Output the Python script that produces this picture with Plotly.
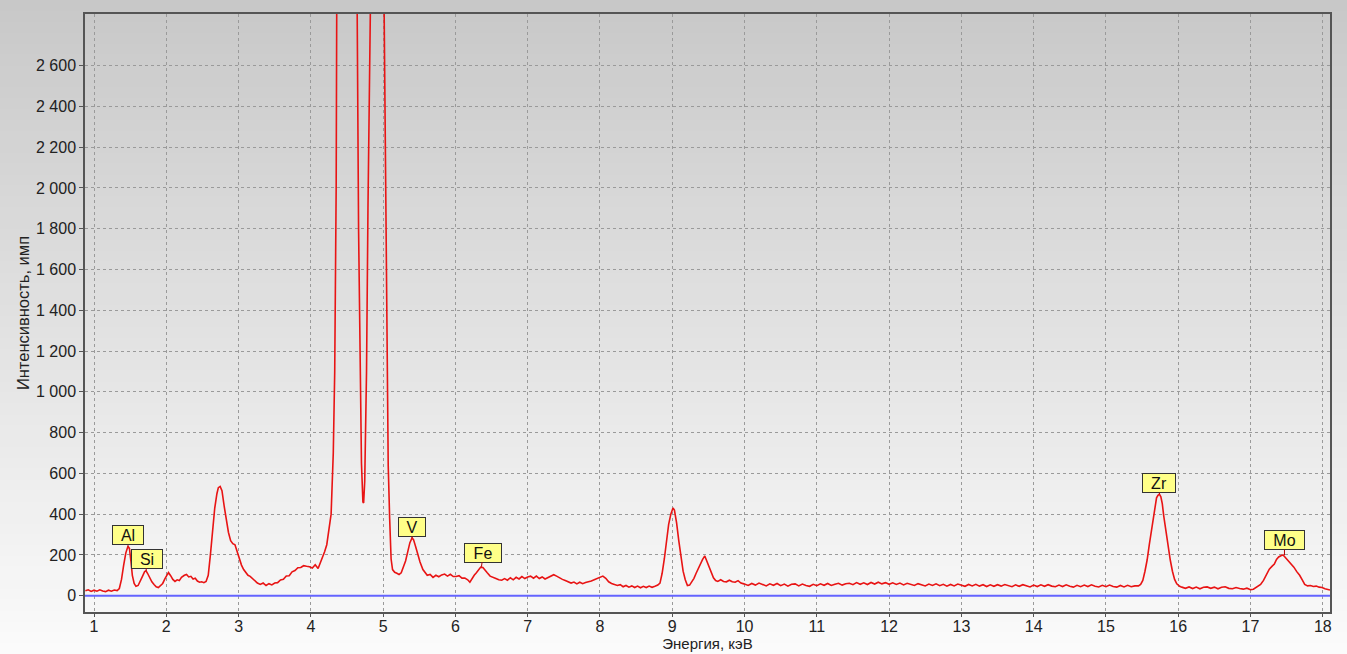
import plotly.graph_objects as go

# ---------------- data ----------------
spectrum_points = [
    (0.88, 24), (0.92, 29), (0.96, 21), (1.00, 27), (1.04, 22), (1.08, 29), (1.12, 23), (1.16, 20),
    (1.20, 27), (1.24, 22), (1.28, 28), (1.32, 25), (1.35, 35), (1.38, 80), (1.41, 150), (1.44, 210),
    (1.47, 242), (1.49, 232), (1.51, 170), (1.53, 100), (1.555, 60), (1.58, 46), (1.61, 50), (1.64, 70),
    (1.67, 95), (1.70, 118), (1.72, 122), (1.74, 110), (1.77, 85), (1.80, 68), (1.83, 55), (1.86, 44),
    (1.89, 40), (1.92, 52), (1.95, 60), (1.98, 82), (2.01, 100), (2.03, 114), (2.06, 98), (2.09, 80),
    (2.12, 70), (2.15, 78), (2.18, 74), (2.21, 90), (2.25, 100), (2.28, 104), (2.31, 92), (2.34, 95),
    (2.37, 82), (2.40, 86), (2.43, 72), (2.46, 66), (2.49, 68), (2.52, 64), (2.55, 70), (2.58, 100),
    (2.61, 200), (2.64, 320), (2.67, 430), (2.70, 500), (2.72, 530), (2.745, 536), (2.77, 515), (2.80, 440),
    (2.83, 370), (2.86, 310), (2.89, 270), (2.92, 255), (2.95, 250), (2.98, 215), (3.01, 185), (3.04, 150),
    (3.07, 128), (3.10, 112), (3.13, 100), (3.16, 95), (3.19, 85), (3.22, 72), (3.26, 62), (3.30, 55),
    (3.34, 62), (3.38, 50), (3.42, 59), (3.46, 53), (3.50, 62), (3.54, 64), (3.58, 77), (3.62, 80),
    (3.66, 97), (3.70, 98), (3.74, 117), (3.78, 123), (3.82, 137), (3.86, 138), (3.90, 147), (3.94, 144),
    (3.98, 142), (4.02, 136), (4.06, 152), (4.10, 133), (4.13, 160), (4.16, 184), (4.19, 215), (4.22, 250),
    (4.25, 330), (4.28, 400), (4.31, 700), (4.33, 1100), (4.35, 2000), (4.37, 3500), (4.40, 8000),
    (4.45, 15000), (4.51, 20000), (4.56, 14000), (4.60, 6000), (4.62, 3800), (4.64, 2900), (4.66, 1800),
    (4.68, 1100), (4.70, 650), (4.72, 460), (4.73, 455), (4.745, 560), (4.77, 1100), (4.79, 1900),
    (4.81, 2800), (4.83, 3600), (4.88, 5500), (4.93, 6000), (4.98, 4200), (5.01, 3000), (5.03, 2200),
    (5.05, 1200), (5.07, 640), (5.09, 380), (5.11, 180), (5.13, 128), (5.16, 115), (5.19, 110), (5.22, 104),
    (5.25, 112), (5.28, 140), (5.31, 170), (5.34, 215), (5.37, 260), (5.40, 283), (5.42, 275), (5.45, 240),
    (5.48, 195), (5.51, 165), (5.55, 128), (5.58, 112), (5.61, 100), (5.65, 104), (5.69, 90), (5.73, 100),
    (5.77, 93), (5.81, 102), (5.85, 106), (5.89, 96), (5.93, 105), (5.97, 94), (6.01, 94), (6.05, 98),
    (6.09, 86), (6.13, 86), (6.17, 78), (6.20, 66), (6.23, 85), (6.26, 100), (6.29, 112), (6.32, 125),
    (6.35, 140), (6.38, 138), (6.41, 122), (6.44, 112), (6.48, 96), (6.52, 88), (6.56, 84), (6.60, 78),
    (6.64, 76), (6.68, 84), (6.72, 76), (6.76, 88), (6.80, 78), (6.84, 90), (6.88, 82), (6.92, 94),
    (6.96, 84), (7.00, 92), (7.04, 96), (7.08, 86), (7.12, 96), (7.16, 84), (7.20, 92), (7.24, 82),
    (7.28, 90), (7.32, 95), (7.36, 103), (7.40, 96), (7.44, 86), (7.48, 80), (7.52, 74), (7.56, 66),
    (7.60, 62), (7.64, 67), (7.68, 58), (7.72, 66), (7.76, 59), (7.80, 65), (7.84, 68), (7.88, 72),
    (7.92, 78), (7.96, 84), (8.00, 90), (8.04, 96), (8.08, 85), (8.12, 68), (8.16, 60), (8.20, 55),
    (8.24, 50), (8.28, 54), (8.32, 44), (8.36, 50), (8.40, 42), (8.44, 48), (8.48, 40), (8.52, 47),
    (8.56, 39), (8.60, 46), (8.64, 40), (8.68, 47), (8.72, 41), (8.76, 46), (8.80, 52), (8.83, 62),
    (8.86, 110), (8.89, 180), (8.92, 270), (8.95, 350), (8.98, 400), (9.01, 430), (9.03, 420), (9.06, 357),
    (9.09, 270), (9.12, 190), (9.15, 120), (9.18, 78), (9.21, 50), (9.24, 52), (9.27, 68), (9.30, 85),
    (9.33, 110), (9.36, 135), (9.39, 160), (9.42, 178), (9.45, 195), (9.48, 170), (9.51, 140), (9.54, 112),
    (9.57, 88), (9.60, 74), (9.63, 70), (9.67, 78), (9.71, 70), (9.75, 68), (9.79, 76), (9.83, 68),
    (9.87, 66), (9.91, 74), (9.95, 62), (9.99, 58), (10.05, 50), (10.10, 60), (10.15, 52), (10.20, 62),
    (10.25, 54), (10.30, 48), (10.35, 58), (10.40, 51), (10.45, 60), (10.50, 49), (10.55, 57), (10.60, 47),
    (10.65, 56), (10.70, 58), (10.75, 48), (10.80, 57), (10.85, 50), (10.90, 46), (10.95, 56), (11.00, 49),
    (11.05, 58), (11.10, 51), (11.15, 60), (11.20, 50), (11.25, 56), (11.30, 61), (11.35, 52), (11.40, 59),
    (11.45, 61), (11.50, 54), (11.55, 64), (11.60, 56), (11.65, 63), (11.70, 55), (11.75, 65), (11.80, 57),
    (11.85, 66), (11.90, 58), (11.95, 64), (12.00, 56), (12.05, 63), (12.10, 55), (12.15, 62), (12.20, 53),
    (12.25, 61), (12.30, 54), (12.35, 50), (12.40, 59), (12.45, 52), (12.50, 48), (12.55, 57), (12.60, 50),
    (12.65, 58), (12.70, 49), (12.75, 56), (12.80, 47), (12.85, 55), (12.90, 48), (12.95, 57), (13.00, 50),
    (13.05, 46), (13.10, 55), (13.15, 48), (13.20, 56), (13.25, 47), (13.30, 54), (13.35, 45), (13.40, 53),
    (13.45, 46), (13.50, 54), (13.55, 47), (13.60, 55), (13.65, 48), (13.70, 44), (13.75, 53), (13.80, 46),
    (13.85, 54), (13.90, 47), (13.95, 43), (14.00, 52), (14.05, 45), (14.10, 53), (14.15, 46), (14.20, 54),
    (14.25, 47), (14.30, 44), (14.35, 52), (14.40, 45), (14.45, 53), (14.50, 46), (14.55, 42), (14.60, 51),
    (14.65, 44), (14.70, 52), (14.75, 45), (14.80, 53), (14.85, 46), (14.90, 43), (14.95, 51), (15.00, 44),
    (15.05, 52), (15.10, 45), (15.15, 42), (15.20, 50), (15.25, 43), (15.30, 51), (15.35, 44), (15.40, 48),
    (15.45, 48), (15.48, 55), (15.51, 75), (15.54, 120), (15.57, 175), (15.60, 250), (15.64, 338),
    (15.67, 420), (15.70, 480), (15.72, 492), (15.74, 498), (15.76, 485), (15.78, 450), (15.80, 390),
    (15.82, 338), (15.85, 260), (15.89, 175), (15.92, 120), (15.95, 80), (15.98, 58), (16.02, 46),
    (16.05, 42), (16.10, 36), (16.15, 43), (16.20, 35), (16.25, 42), (16.30, 34), (16.35, 41), (16.40, 43),
    (16.45, 36), (16.50, 42), (16.55, 34), (16.60, 41), (16.65, 44), (16.70, 36), (16.75, 34), (16.80, 40),
    (16.85, 35), (16.90, 32), (16.95, 37), (17.00, 29), (17.04, 32), (17.07, 38), (17.10, 45), (17.14, 55),
    (17.18, 75), (17.22, 105), (17.26, 130), (17.30, 145), (17.33, 155), (17.36, 178), (17.39, 190),
    (17.42, 196), (17.45, 200), (17.47, 192), (17.50, 180), (17.53, 170), (17.56, 155), (17.60, 140),
    (17.64, 118), (17.68, 100), (17.72, 75), (17.75, 55), (17.79, 48), (17.83, 50), (17.87, 45),
    (17.91, 47), (17.95, 42), (17.99, 40), (18.03, 34), (18.07, 30), (18.10, 28),
]
energy_kev = [p[0] for p in spectrum_points]
counts = [p[1] for p in spectrum_points]

x_range = [0.875, 18.1]
y_range = [-80, 2853]
x_ticks = list(range(1, 19))
y_ticks = list(range(0, 2601, 200))

# element labels
label_names = ["Al", "Si", "V", "Fe", "Zr", "Mo"]
label_energy = [1.47, 1.72, 5.40, 6.36, 15.74, 17.47]
label_counts = [242, 122, 283, 142, 498, 199]
label_dx = [0, 1, 0, 2, 0, 0]
label_dy = [-11, -12, -11, -14, -11, -15]
label_width = [28, 28, 24, 34, 30, 37]

# ---------------- figure ----------------
W, H = 1347, 654
ML, MR, MT, MB = 85, 17, 14, 42
plot_w = W - ML - MR
plot_h = H - MT - MB

fig = go.Figure()

fig.add_trace(go.Scatter(
    x=x_range, y=[0, 0], mode="lines",
    line=dict(color="#6464ff", width=2), hoverinfo="skip", showlegend=False))

fig.add_trace(go.Scatter(
    x=energy_kev, y=counts, mode="lines",
    line=dict(color="#e81414", width=1.6), showlegend=False))

# background vertical gradient (whole page)
n = 60
shapes = []
for i in range(n):
    py0 = H * i / n
    py1 = H * (i + 1) / n + 0.8
    t = (i + 0.5) / n
    g = int(round(200 + (251 - 200) * t))
    col = f"rgb({g},{g},{g})"
    y0 = (H - MB - py1) / plot_h
    y1 = (H - MB - py0) / plot_h
    shapes.append(dict(type="rect", xref="paper", yref="paper",
                       x0=-ML / plot_w - 0.01, x1=1 + MR / plot_w + 0.01,
                       y0=y0, y1=y1, fillcolor=col, line=dict(width=0), layer="below"))

annotations = []
for name, e, c, dx, dy, w in zip(label_names, label_energy, label_counts, label_dx, label_dy, label_width):
    annotations.append(dict(
        x=e, y=c, xref="x", yref="y", text=name, showarrow=True,
        ax=dx, ay=dy, arrowhead=0, arrowwidth=1, arrowcolor="#b00000",
        font=dict(family="Liberation Sans, Arial", size=16, color="#111111"),
        bgcolor="#ffff88", bordercolor="#333333", borderwidth=1, borderpad=1,
        width=w, height=16))

fig.update_layout(
    width=W, height=H,
    margin=dict(l=ML, r=MR, t=MT, b=MB, autoexpand=False),
    paper_bgcolor="rgba(0,0,0,0)",
    plot_bgcolor="rgba(0,0,0,0)",
    separators=", ",
    font=dict(family="Liberation Sans, Arial", size=16, color="#222222"),
    shapes=shapes,
    annotations=annotations,
    showlegend=False,
)

fig.update_xaxes(
    range=x_range, tickvals=x_ticks, ticktext=[str(v) for v in x_ticks],
    showgrid=True, gridcolor="#9a9a9a", griddash="dot", gridwidth=1,
    zeroline=False, showline=True, linecolor="#555555", linewidth=1.5, mirror=True,
    ticks="outside", ticklen=3, tickcolor="#555555", automargin=False,
    ticklabelstandoff=-4,
    tickfont=dict(size=16),
    title=dict(text="Энергия, кэВ", font=dict(size=15), standoff=0),
)
fig.update_yaxes(
    range=y_range, tickvals=y_ticks, tickformat=",d",
    showgrid=True, gridcolor="#9a9a9a", griddash="dot", gridwidth=1,
    zeroline=False, showline=True, linecolor="#555555", linewidth=1.5, mirror=True,
    ticks="outside", ticklen=4, tickcolor="#555555", automargin=False,
    tickfont=dict(size=16),
    title=dict(text="Интенсивность, имп", font=dict(size=16.5), standoff=2),
)

fig.write_html("out.html")
